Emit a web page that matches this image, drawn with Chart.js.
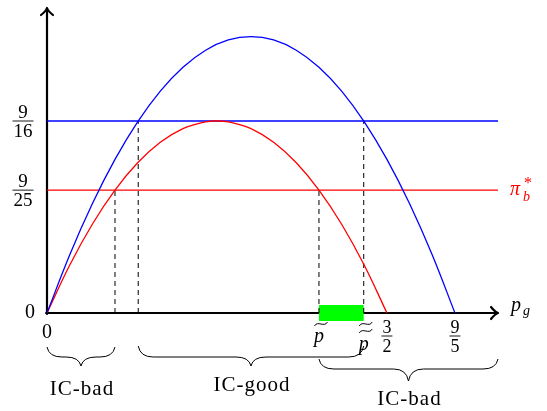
<!DOCTYPE html>
<html>
<head>
<meta charset="utf-8">
<script src="https://cdn.jsdelivr.net/npm/chart.js@4/dist/chart.umd.min.js"></script>
<style>
  html, body { margin: 0; padding: 0; background: #fff; }
  #wrap { width: 547px; height: 411px; }
</style>
</head>
<body>
<div id="wrap"><canvas id="chart" width="547" height="411"></canvas></div>
<script>
// curves (value of pi against p_g)
var redX  = [0, 0.1, 0.2, 0.3, 0.4, 0.5, 0.6, 0.7, 0.75, 0.8, 0.9, 1.0, 1.1, 1.2, 1.3, 1.4, 1.5];
var redY  = [0, 0.14, 0.26, 0.36, 0.44, 0.50, 0.54, 0.56, 0.5625, 0.56, 0.54, 0.50, 0.44, 0.36, 0.26, 0.14, 0];
var blueX = [0, 0.1, 0.2, 0.3, 0.4, 0.5, 0.6, 0.7, 0.8, 0.9, 1.0, 1.1, 1.2, 1.3, 1.4, 1.5, 1.6, 1.7, 1.8];
var blueY = [0, 0.17, 0.32, 0.45, 0.56, 0.65, 0.72, 0.77, 0.80, 0.81, 0.80, 0.77, 0.72, 0.65, 0.56, 0.45, 0.32, 0.17, 0];

// horizontal levels
var levelBlue = 9 / 16;
var levelRed = 9 / 25;   // pi_b^*

// crossing points (dashed lines)
var redCross = [0.3, 1.2];
var blueCross = [0.4025, 1.3975];

// green interval on the axis
var greenRange = [1.2, 1.3975];

// axis ticks
var xTickVals = [0, 1.2, 1.3975, 1.5, 1.8];
var xTickLabels = ["0", "ptilde", "pdtilde", "3/2", "9/5"];
var yTickVals = [0, 9 / 16, 9 / 25];
var yTickLabels = ["0", "9/16", "9/25"];

// braces under the axis
var braceFrom = [0, 0.4025, 1.2];
var braceTo = [0.3, 1.3975, 1.99];
var braceLabels = ["IC-bad", "IC-good", "IC-bad"];

var xMax = 1.99;
var yMax = 0.8936;

function pts(xs, ys) {
    return xs.map(function (x, i) { return { x: x, y: ys[i] }; });
}

var datasets = [
    { data: pts(blueX, blueY), borderColor: 'blue', borderWidth: 1.3, tension: 0.4, pointRadius: 0 },
    { data: pts(redX, redY), borderColor: 'red', borderWidth: 1.3, tension: 0.4, pointRadius: 0 },
    { data: [{ x: 0, y: levelBlue }, { x: xMax, y: levelBlue }], borderColor: 'blue', borderWidth: 1.3, pointRadius: 0 },
    { data: [{ x: 0, y: levelRed }, { x: xMax, y: levelRed }], borderColor: 'red', borderWidth: 1.3, pointRadius: 0 }
];
redCross.forEach(function (x) {
    datasets.push({ data: [{ x: x, y: 0 }, { x: x, y: levelRed }], borderColor: '#000', borderWidth: 1, borderDash: [5, 4], pointRadius: 0 });
});
blueCross.forEach(function (x) {
    datasets.push({ data: [{ x: x, y: 0 }, { x: x, y: levelBlue }], borderColor: '#000', borderWidth: 1, borderDash: [5, 4], pointRadius: 0 });
});
datasets.push({ data: [{ x: greenRange[0], y: 0 }, { x: greenRange[1], y: 0 }], borderColor: '#00ff00', borderWidth: 16, borderCapStyle: 'butt', pointRadius: 0, clip: false });

var SERIF = "'Liberation Serif', 'DejaVu Serif', serif";

function tilde(ctx, cx, cy, w) {
    ctx.beginPath();
    ctx.moveTo(cx - w / 2, cy + 2);
    ctx.bezierCurveTo(cx - w / 4, cy - 4, cx + w / 4, cy + 4, cx + w / 2, cy - 2);
    ctx.stroke();
}

function fraction(ctx, num, den, cx, cy, size, barW) {
    ctx.font = size + "px " + SERIF;
    ctx.textAlign = 'center';
    ctx.textBaseline = 'alphabetic';
    ctx.fillText(num, cx, cy - 3);
    ctx.fillText(den, cx, cy + 16);
    ctx.beginPath();
    ctx.lineWidth = 0.9;
    ctx.moveTo(cx - barW / 2, cy);
    ctx.lineTo(cx + barW / 2, cy);
    ctx.stroke();
}

function brace(ctx, x1, x2, top, mid, bottom) {
    var tip = (x1 + x2) / 2;
    var r = 15;
    ctx.beginPath();
    ctx.moveTo(x1, top);
    ctx.quadraticCurveTo(x1 + 2, mid, x1 + r, mid);
    ctx.lineTo(tip - r, mid);
    ctx.quadraticCurveTo(tip - 2, mid, tip, bottom);
    ctx.quadraticCurveTo(tip + 2, mid, tip + r, mid);
    ctx.lineTo(x2 - r, mid);
    ctx.quadraticCurveTo(x2 - 2, mid, x2, top);
    ctx.stroke();
}

var axesPlugin = {
    id: 'axes',
    beforeDatasetsDraw: function (chart) {
        var ctx = chart.ctx;
        var xs = chart.scales.x, ys = chart.scales.y;
        var x0 = xs.getPixelForValue(0), y0 = ys.getPixelForValue(0);
        var right = chart.chartArea.right, top = chart.chartArea.top;
        ctx.save();
        ctx.strokeStyle = '#000';
        ctx.lineWidth = 2.2;
        ctx.lineCap = 'round';
        ctx.lineJoin = 'round';
        ctx.beginPath();
        ctx.moveTo(x0 - 1, y0);
        ctx.lineTo(right - 1, y0);
        ctx.moveTo(x0, y0 + 1);
        ctx.lineTo(x0, top + 1);
        ctx.stroke();
        // arrow heads
        ctx.beginPath();
        ctx.moveTo(right - 7, y0 - 6);
        ctx.quadraticCurveTo(right - 3, y0 - 1, right, y0);
        ctx.quadraticCurveTo(right - 3, y0 + 1, right - 7, y0 + 6);
        ctx.moveTo(x0 - 6, top + 7);
        ctx.quadraticCurveTo(x0 - 1, top + 3, x0, top);
        ctx.quadraticCurveTo(x0 + 1, top + 3, x0 + 6, top + 7);
        ctx.stroke();
        ctx.restore();
    },
    afterDraw: function (chart) {
        var ctx = chart.ctx;
        var xs = chart.scales.x, ys = chart.scales.y;
        var y0 = ys.getPixelForValue(0);
        ctx.save();
        ctx.fillStyle = '#000';
        ctx.strokeStyle = '#000';

        // y tick labels
        yTickVals.forEach(function (v, i) {
            var py = ys.getPixelForValue(v);
            var lab = yTickLabels[i];
            if (lab.indexOf('/') > 0) {
                var p = lab.split('/');
                fraction(ctx, p[0], p[1], 23, py, 19, 21);
            } else {
                ctx.font = "20px " + SERIF;
                ctx.textAlign = 'center';
                ctx.textBaseline = 'middle';
                ctx.fillText(lab, 30, py);
            }
        });

        // x tick labels
        xTickVals.forEach(function (v, i) {
            var px = xs.getPixelForValue(v);
            var lab = xTickLabels[i];
            ctx.lineWidth = 1;
            if (lab === "ptilde") {
                ctx.font = "italic 20px " + SERIF;
                ctx.textAlign = 'center';
                ctx.textBaseline = 'alphabetic';
                ctx.fillText("p", px, y0 + 29);
                tilde(ctx, px + 2, y0 + 11, 13);
            } else if (lab === "pdtilde") {
                ctx.font = "italic 20px " + SERIF;
                ctx.textAlign = 'center';
                ctx.textBaseline = 'alphabetic';
                ctx.fillText("p", px, y0 + 37);
                tilde(ctx, px + 2, y0 + 11, 13);
                tilde(ctx, px + 2, y0 + 18, 13);
            } else if (lab.indexOf('/') > 0) {
                var p = lab.split('/');
                fraction(ctx, p[0], p[1], px, y0 + 23, 18, 11);
            } else {
                ctx.font = "20px " + SERIF;
                ctx.textAlign = 'center';
                ctx.textBaseline = 'middle';
                ctx.fillText(lab, px, y0 + 20);
            }
        });

        // axis names
        var right = chart.chartArea.right;
        ctx.textAlign = 'left';
        ctx.textBaseline = 'alphabetic';
        ctx.font = "italic 20px " + SERIF;
        ctx.fillText("p", right + 13, y0 - 2);
        ctx.font = "italic 14px " + SERIF;
        ctx.fillText("g", right + 25, y0 + 2);

        ctx.fillStyle = 'red';
        var pyR = ys.getPixelForValue(levelRed);
        ctx.font = "italic 20px " + SERIF;
        ctx.fillText("\u03c0", right + 12, pyR + 5);
        ctx.font = "italic 14px " + SERIF;
        ctx.fillText("b", right + 25, pyR + 11);
        ctx.font = "16px " + SERIF;
        ctx.fillText("*", right + 26, pyR - 2);

        // braces
        ctx.fillStyle = '#000';
        ctx.lineWidth = 1;
        var tops = [347, 346, 359];
        var mids = [357, 357, 369];
        var tips = [366, 366, 381];
        var baselines = [395, 391, 405];
        braceFrom.forEach(function (a, i) {
            var x1 = xs.getPixelForValue(a), x2 = xs.getPixelForValue(braceTo[i]);
            brace(ctx, x1, x2, tops[i], mids[i], tips[i]);
            ctx.font = "21px " + SERIF;
            ctx.letterSpacing = '1px';
            ctx.textAlign = 'center';
            ctx.textBaseline = 'alphabetic';
            ctx.fillText(braceLabels[i], (x1 + x2) / 2 + 1, baselines[i]);
            ctx.letterSpacing = '0px';
        });
        ctx.restore();
    }
};

new Chart(document.getElementById('chart'), {
    type: 'line',
    data: { datasets: datasets },
    options: {
        responsive: false,
        animation: false,
        layout: { padding: { left: 47, right: 49, top: 8, bottom: 98 } },
        plugins: { legend: { display: false }, tooltip: { enabled: false } },
        scales: {
            x: { type: 'linear', min: 0, max: xMax, display: false },
            y: { min: 0, max: yMax, display: false }
        }
    },
    plugins: [axesPlugin]
});
</script>
</body>
</html>
